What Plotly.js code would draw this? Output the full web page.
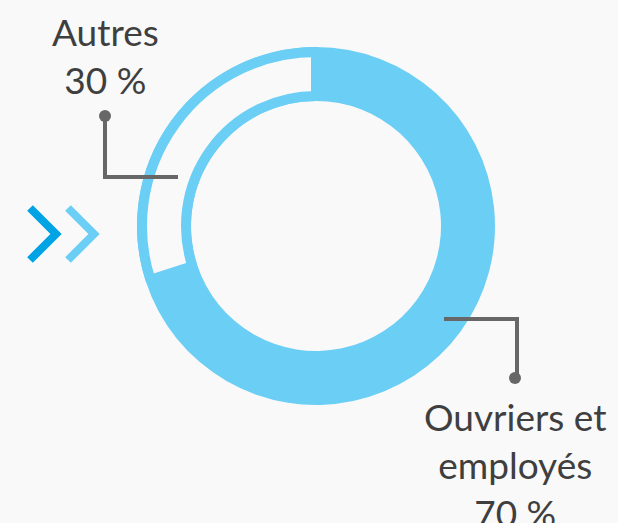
<!DOCTYPE html>
<html>
<head>
    <script src="https://cdn.plot.ly/plotly-3.0.1.min.js"></script>
    <style>
        body { margin: 0; background: #f9f9f9; }
    </style>
</head>
<body>
    <div id="myDiv"></div>
    <script>
        // données
        var labels = ['Ouvriers et employés', 'Autres'];
        var values = [70, 30];
        var pctLabels = ['70 %', '30 %'];

        var W = 618, H = 523;
        var blue = '#6bcef5';
        var bg = '#f9f9f9';
        var grey = '#676767';

        // pixel -> domaine paper
        function dom(cx, cy, r) {
            return {
                x: [(cx - r) / W, (cx + r) / W],
                y: [(H - cy - r) / H, (H - cy + r) / H]
            };
        }
        function px(x) { return x / W; }
        function py(y) { return (H - y) / H; }

        var cx = 316, cy = 226, rOut = 179, rIn = 125, border = 10;

        var data = [{
            type: 'pie',
            labels: labels,
            values: values,
            sort: false,
            direction: 'counterclockwise',
            rotation: 0,
            hole: rIn / rOut,
            domain: dom(cx, cy, rOut),
            marker: { colors: [blue, blue], line: { width: 0 } },
            textinfo: 'none',
            hoverinfo: 'none',
            showlegend: false
        }, {
            // tranche "Autres" évidée
            type: 'pie',
            labels: labels,
            values: values,
            sort: false,
            direction: 'counterclockwise',
            rotation: 0,
            hole: (rIn + border / 2) / (rOut - border / 2),
            domain: dom(cx, cy, rOut - border / 2),
            marker: { colors: ['rgba(0,0,0,0)', bg], line: { color: blue, width: [0, border] } },
            textinfo: 'none',
            hoverinfo: 'none',
            showlegend: false
        }];

        var lineStyle = { color: grey, width: 4 };
        var shapes = [
            // repère Autres
            { type: 'path', xref: 'paper', yref: 'paper',
              path: 'M ' + px(105) + ' ' + py(116) + ' L ' + px(105) + ' ' + py(177) + ' L ' + px(178) + ' ' + py(177),
              line: lineStyle },
            { type: 'circle', xref: 'paper', yref: 'paper', x0: px(99), x1: px(111), y0: py(110), y1: py(122),
              fillcolor: grey, line: { width: 0 } },
            // repère Ouvriers
            { type: 'path', xref: 'paper', yref: 'paper',
              path: 'M ' + px(444) + ' ' + py(319) + ' L ' + px(517) + ' ' + py(319) + ' L ' + px(517) + ' ' + py(378),
              line: lineStyle },
            { type: 'circle', xref: 'paper', yref: 'paper', x0: px(509), x1: px(521), y0: py(372), y1: py(384),
              fillcolor: grey, line: { width: 0 } },
            // chevrons
            { type: 'path', xref: 'paper', yref: 'paper',
              path: 'M ' + px(30) + ' ' + py(208) + ' L ' + px(56) + ' ' + py(234) + ' L ' + px(30) + ' ' + py(260),
              line: { color: '#00a3e4', width: 8 } },
            { type: 'path', xref: 'paper', yref: 'paper',
              path: 'M ' + px(68) + ' ' + py(208) + ' L ' + px(94) + ' ' + py(234) + ' L ' + px(68) + ' ' + py(260),
              line: { color: blue, width: 8 } }
        ];

        var font = { family: 'Lato, sans-serif', size: 37, color: '#3f3f3f' };
        var annotations = [
            { xref: 'paper', yref: 'paper', x: px(105), y: py(7), xanchor: 'center', yanchor: 'top',
              text: labels[1] + '<br>' + pctLabels[1], showarrow: false, font: font },
            { xref: 'paper', yref: 'paper', x: px(515), y: py(392), xanchor: 'center', yanchor: 'top',
              text: 'Ouvriers et<br>employés<br>' + pctLabels[0], showarrow: false, font: font }
        ];

        var layout = {
            width: W,
            height: H,
            margin: { l: 0, r: 0, t: 0, b: 0 },
            paper_bgcolor: bg,
            plot_bgcolor: bg,
            showlegend: false,
            shapes: shapes,
            annotations: annotations
        };

        var config = { displayModeBar: false, staticPlot: true };

        Plotly.newPlot('myDiv', data, layout, config);
    </script>
</body>
</html>
